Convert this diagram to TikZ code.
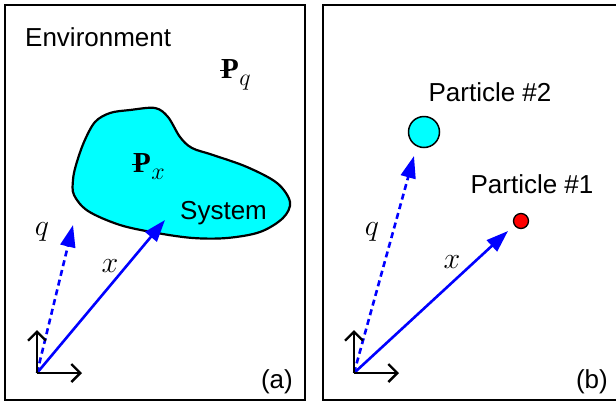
\RequirePackage{fix-cm}
\documentclass[tikz,border=0pt]{standalone}
\usepackage{fontspec}
\setmainfont{Liberation Sans}
\newfontfamily\serifP{Liberation Serif}
\usetikzlibrary{arrows.meta}
\definecolor{cyanc}{RGB}{0,255,255}
\definecolor{redc}{RGB}{255,0,0}
\definecolor{bluec}{RGB}{0,0,255}
\newcommand{\Pstroke}{{\serifP\bfseries\ooalign{P\cr\kern-0.04em\rule[0.24em]{0.36em}{0.05em}\cr}}}
\newcommand{\Psub}[1]{\Pstroke\kern0.5pt\raisebox{-7pt}{\fontsize{24}{28}\selectfont$#1$}}
\begin{document}
\begin{tikzpicture}[x=1pt,y=-1pt,
  frame/.style={draw=black,line width=2pt},
  axis/.style={draw=black,line width=2.4pt,-{Straight Barb[length=9pt,width=18pt,line width=2.4pt]}},
  vecsolid/.style={draw=bluec,line width=2.6pt,-{Triangle[length=22pt,width=15pt]}},
  vecdash/.style={draw=bluec,line width=2.6pt,dash pattern=on 6pt off 4pt,-{Triangle[length=22pt,width=15pt]}},
  lab/.style={font=\fontsize{26}{30}\selectfont,inner sep=0pt},
  mlab/.style={font=\fontsize{30}{36}\selectfont,inner sep=0pt},
  plab/.style={font=\fontsize{29}{34}\selectfont,inner sep=0pt}]
\useasboundingbox (0,0) rectangle (616,405);
\fill[white] (0,0) rectangle (616,405);
% frames
\draw[frame] (5,5) rectangle (305,400);
\draw[frame] (323,5) rectangle (622,400);
% ---- panel (a)
\node[lab,anchor=base west] (env) at (25,46) {Environment};
\node[plab,anchor=base west] (pq) at (221,78) {\Psub{q}};
\draw[fill=cyanc,line width=2.2pt] plot[smooth cycle,tension=0.55] coordinates{
 (76,165) (84,142) (95,122) (110,113) (130,110) (155,108) (168,117) (180,137)
 (192,148) (213,155) (247,167) (277,183) (290,202) (283,218) (260,232) (227,238)
 (193,238) (157,233) (120,225) (88,211) (74,195) (73,180)};
\node[plab,anchor=base west] (px) at (133,172) {\Psub{x}};
\node[lab,anchor=base west] (sys) at (180,219) {System};
\coordinate (oa) at (37,373);
\coordinate (ua) at (37,330);
\coordinate (ra) at (82,373);
\coordinate (xa) at (165,220);
\coordinate (qa) at (73,225);
\draw[vecdash] (oa) -- (qa);
\draw[vecsolid] (oa) -- (xa);
\draw[axis] (oa) -- (ua);
\draw[axis] (oa) -- (ra);
\node[mlab] (ql) at (42,232) {$q$};
\node[mlab] (xl) at (110,266) {$x$};
\node[lab,anchor=base east] (la) at (293,388) {(a)};
% ---- panel (b)
\node[lab,anchor=base] (p2) at (490,101) {Particle \#2};
\node[draw=black,line width=1.5pt,fill=cyanc,circle,minimum size=31pt,inner sep=0pt] (c2) at (424,132) {};
\node[lab,anchor=base] (p1) at (532,193) {Particle \#1};
\node[draw=black,line width=1.3pt,fill=redc,circle,minimum size=15pt,inner sep=0pt] (c1) at (521,221) {};
\coordinate (ob) at (354,373);
\coordinate (ub) at (354,330);
\coordinate (rb) at (399,373);
\coordinate (xb) at (508,231);
\coordinate (qb) at (414,156);
\draw[vecdash] (ob) -- (qb);
\draw[vecsolid] (ob) -- (xb);
\draw[axis] (ob) -- (ub);
\draw[axis] (ob) -- (rb);
\node[mlab] (qlb) at (372,232) {$q$};
\node[mlab] (xlb) at (452,262) {$x$};
\node[lab,anchor=base east] (lb) at (608,388) {(b)};
\end{tikzpicture}
\end{document}
